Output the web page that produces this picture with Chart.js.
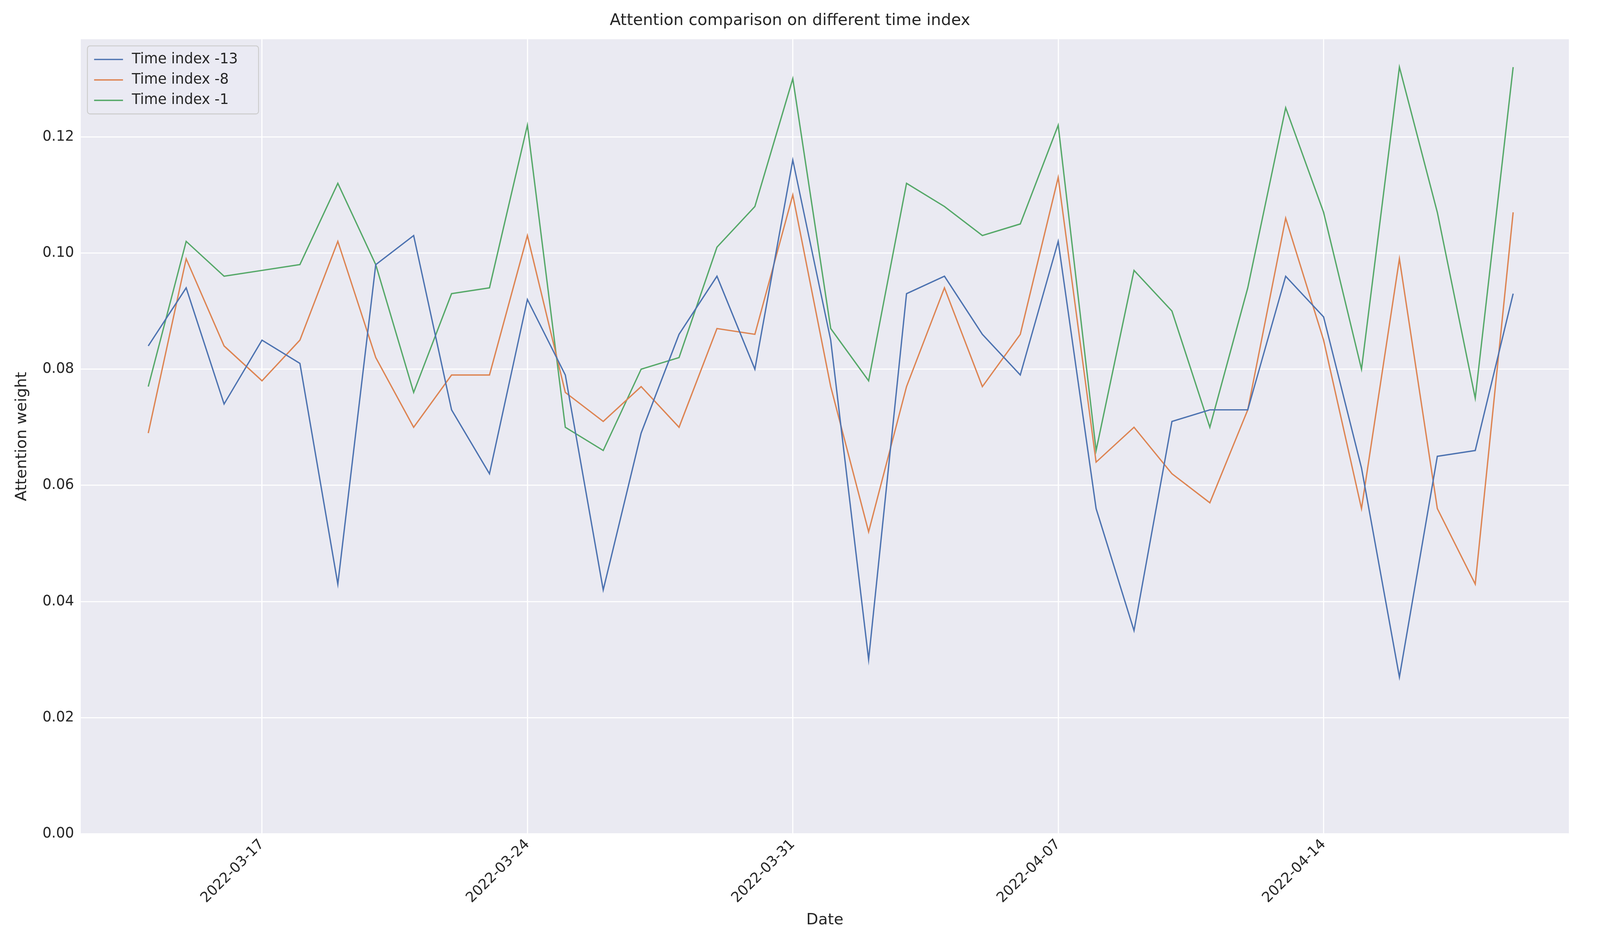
<!DOCTYPE html>
<html>
<head>
<meta charset="utf-8">
<script src="https://cdn.jsdelivr.net/npm/chart.js@4"></script>
<style>
  html, body { margin: 0; padding: 0; background: #ffffff; overflow: hidden; }
  #wrap { width: 100vw; height: 100vh; position: relative; }
</style>
</head>
<body>
<div id="wrap"><canvas id="chart"></canvas></div>
<script>
// Dates: one point per day, 2022-03-14 .. 2022-04-19
const startDate = new Date(Date.UTC(2022, 2, 14));
const tickDays = [3, 10, 17, 24, 31];
const yTicks = [0, 0.02, 0.04, 0.06, 0.08, 0.10, 0.12];

const series13 = [0.084, 0.094, 0.074, 0.085, 0.081, 0.043, 0.098, 0.103, 0.073, 0.062,
  0.092, 0.079, 0.042, 0.069, 0.086, 0.096, 0.080, 0.116, 0.085, 0.030,
  0.093, 0.096, 0.086, 0.079, 0.102, 0.056, 0.035, 0.071, 0.073, 0.073,
  0.096, 0.089, 0.063, 0.027, 0.065, 0.066, 0.093];
const series8 = [0.069, 0.099, 0.084, 0.078, 0.085, 0.102, 0.082, 0.070, 0.079, 0.079,
  0.103, 0.076, 0.071, 0.077, 0.070, 0.087, 0.086, 0.110, 0.077, 0.052,
  0.077, 0.094, 0.077, 0.086, 0.113, 0.064, 0.070, 0.062, 0.057, 0.073,
  0.106, 0.085, 0.056, 0.099, 0.056, 0.043, 0.107];
const series1 = [0.077, 0.102, 0.096, 0.097, 0.098, 0.112, 0.098, 0.076, 0.093, 0.094,
  0.122, 0.070, 0.066, 0.080, 0.082, 0.101, 0.108, 0.130, 0.087, 0.078,
  0.112, 0.108, 0.103, 0.105, 0.122, 0.066, 0.097, 0.090, 0.070, 0.094,
  0.125, 0.107, 0.080, 0.132, 0.107, 0.075, 0.132];

const seriesNames = ['Time index -13', 'Time index -8', 'Time index -1'];
const seriesColors = ['#4C72B0', '#DD8452', '#55A868'];

// tout est dimensionné par rapport à une largeur de 7200
const S = window.innerWidth / 7200;
const px = v => v * S;

function dayLabel(d) {
  const dt = new Date(startDate.getTime() + d * 86400000);
  return dt.toISOString().slice(0, 10);
}

function toPoints(arr) {
  return arr.map((v, i) => ({ x: i, y: v }));
}

const FONT = 'DejaVu Sans';

// fond gris de la zone de tracé
const plotBg = {
  id: 'plotBg',
  beforeDraw(chart) {
    const a = chart.chartArea, ctx = chart.ctx;
    ctx.save();
    ctx.fillStyle = '#EAEAF2';
    ctx.fillRect(a.left, a.top, a.right - a.left, a.bottom - a.top);
    ctx.restore();
  }
};

// légende dans le coin haut-gauche du tracé
const innerLegend = {
  id: 'innerLegend',
  afterDraw(chart) {
    const a = chart.chartArea, ctx = chart.ctx;
    const x0 = a.left + px(30), y0 = a.top + px(30);
    const rowH = px(92), w = px(770), h = rowH * 3 + px(30);
    ctx.save();
    ctx.fillStyle = 'rgba(234,234,242,0.8)';
    ctx.strokeStyle = '#cccccc';
    ctx.lineWidth = px(4);
    ctx.beginPath();
    ctx.roundRect(x0, y0, w, h, px(12));
    ctx.fill();
    ctx.stroke();
    ctx.font = px(64) + 'px "' + FONT + '"';
    ctx.textBaseline = 'middle';
    chart.data.datasets.forEach((ds, i) => {
      const cy = y0 + px(15) + rowH * i + rowH / 2;
      ctx.strokeStyle = ds.borderColor;
      ctx.lineWidth = px(6);
      ctx.beginPath();
      ctx.moveTo(x0 + px(30), cy);
      ctx.lineTo(x0 + px(160), cy);
      ctx.stroke();
      ctx.fillStyle = '#262626';
      ctx.fillText(ds.label, x0 + px(200), cy);
    });
    ctx.restore();
  }
};

const ctx = document.getElementById('chart').getContext('2d');
new Chart(ctx, {
  type: 'line',
  data: {
    datasets: [series13, series8, series1].map((s, i) => ({
      label: seriesNames[i],
      data: toPoints(s),
      borderColor: seriesColors[i],
      borderWidth: px(6),
      pointRadius: 0,
      tension: 0,
      fill: false
    }))
  },
  options: {
    responsive: true,
    maintainAspectRatio: false,
    animation: false,
    layout: { padding: { left: px(50), right: px(140), top: px(20), bottom: px(30) } },
    plugins: {
      legend: { display: false },
      tooltip: { enabled: false },
      title: {
        display: true,
        text: 'Attention comparison on different time index',
        color: '#262626',
        font: { family: FONT, size: px(72), weight: 'normal' },
        padding: { top: px(30), bottom: px(40) }
      }
    },
    scales: {
      x: {
        type: 'linear',
        min: -1.78,
        max: 37.47,
        afterBuildTicks(axis) {
          axis.ticks = tickDays.map(v => ({ value: v }));
        },
        ticks: {
          callback: v => dayLabel(v),
          color: '#262626',
          font: { family: FONT, size: px(64) },
          maxRotation: 45,
          minRotation: 45,
          padding: px(10)
        },
        grid: { color: '#ffffff', lineWidth: px(5), drawTicks: false },
        border: { display: false },
        title: {
          display: true,
          text: 'Date',
          color: '#262626',
          font: { family: FONT, size: px(70) },
          padding: { top: px(10) }
        }
      },
      y: {
        min: 0,
        max: 0.1368,
        afterBuildTicks(axis) {
          axis.ticks = yTicks.map(v => ({ value: v }));
        },
        ticks: {
          callback: v => v.toFixed(2),
          color: '#262626',
          font: { family: FONT, size: px(64) },
          padding: px(30)
        },
        grid: { color: '#ffffff', lineWidth: px(5), drawTicks: false },
        border: { display: false },
        title: {
          display: true,
          text: 'Attention weight',
          color: '#262626',
          font: { family: FONT, size: px(70) },
          padding: { bottom: px(20) }
        }
      }
    }
  },
  plugins: [plotBg, innerLegend]
});
</script>
</body>
</html>
